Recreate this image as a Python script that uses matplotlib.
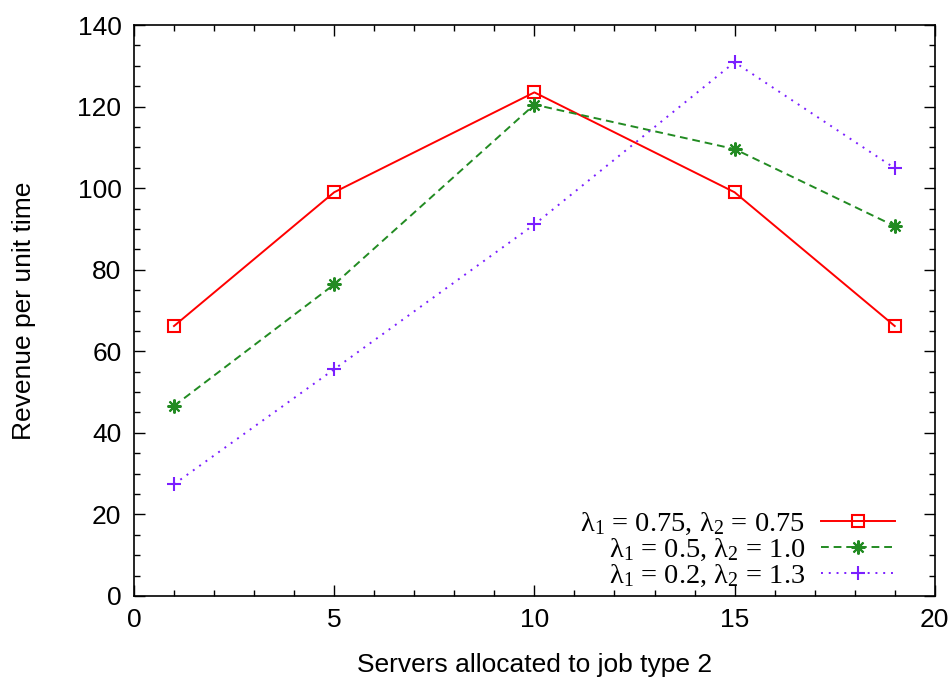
import matplotlib
matplotlib.use("Agg")
import matplotlib.pyplot as plt
from matplotlib.ticker import MultipleLocator

# servers given to job type 2
servers = [1, 5, 10, 15, 19]

# revenue per unit time, one list per arrival-rate pair
rev_a = [66.2, 99.0, 123.5, 99.0, 66.2]     # lambda1 = 0.75, lambda2 = 0.75
rev_b = [46.6, 76.4, 120.5, 109.6, 90.7]    # lambda1 = 0.5,  lambda2 = 1.0
rev_c = [27.4, 55.6, 91.1, 130.9, 104.9]    # lambda1 = 0.2,  lambda2 = 1.3

labels = [r'$\lambda_1$ = 0.75, $\lambda_2$ = 0.75',
          r'$\lambda_1$ = 0.5, $\lambda_2$ = 1.0',
          r'$\lambda_1$ = 0.2, $\lambda_2$ = 1.3']

plt.rcParams['font.family'] = ['Liberation Sans', 'DejaVu Sans']
plt.rcParams['mathtext.default'] = 'regular'

fig = plt.figure(figsize=(9.5, 6.78), dpi=100)
ax = fig.add_axes([0.141, 0.121, 0.843, 0.842])

ax.plot(servers, rev_a, color='#ff0000', lw=1.4, ls='-',
        marker='s', ms=8, mfc='none', mec='#ff0000', mew=1.5, label=labels[0])
ax.plot(servers, rev_b, color='#228b22', lw=1.4, ls=(0, (4, 2.5)),
        marker=(8, 2, 0), ms=10, mew=1.5, label=labels[1])
ax.plot(servers, rev_c, color='#7b1fff', lw=1.4, ls=(0, (1, 3)),
        marker='+', ms=10, mew=1.5, label=labels[2])

ax.set_xlim(0, 20)
ax.set_ylim(0, 140)
ax.xaxis.set_major_locator(MultipleLocator(5))
ax.xaxis.set_minor_locator(MultipleLocator(1))
ax.yaxis.set_major_locator(MultipleLocator(20))
ax.yaxis.set_minor_locator(MultipleLocator(5))
ax.tick_params(which='both', direction='in', top=True, right=True, labelsize=19, width=1)
ax.tick_params(which='major', length=8, pad=9)
ax.tick_params(which='minor', length=4)
for s in ax.spines.values():
    s.set_linewidth(1.2)

ax.set_xlabel('Servers allocated to job type 2', fontsize=19, labelpad=15)
ax.set_ylabel('Revenue per unit time', fontsize=19, labelpad=30)

leg = ax.legend(loc='lower right', bbox_to_anchor=(0.950, 0.012),
                frameon=False, markerfirst=False,
                prop={'family': 'Liberation Serif', 'size': 20.5},
                handlelength=2.6, handletextpad=0.55, labelspacing=0.0,
                borderaxespad=0, borderpad=0, numpoints=1)

fig.savefig('out.png', dpi=100)
